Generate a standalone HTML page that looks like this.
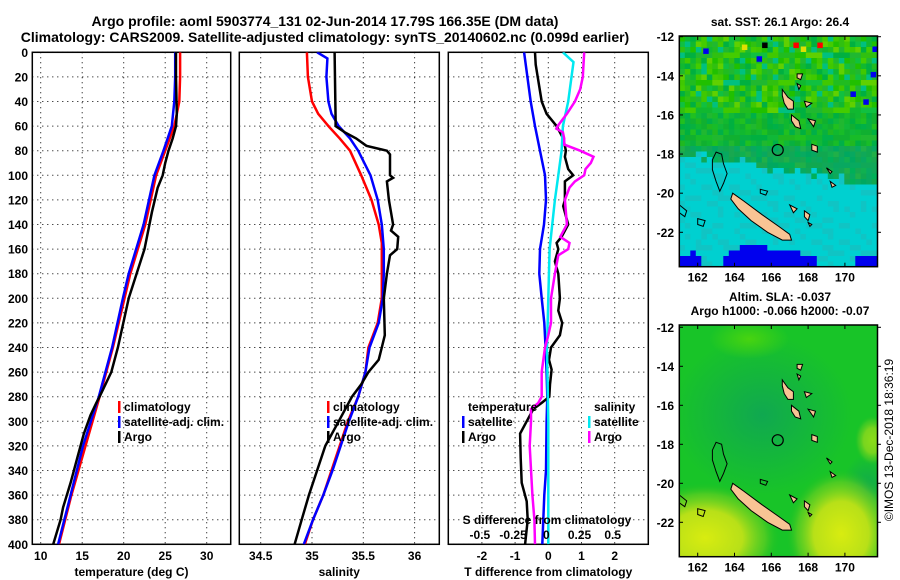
<!DOCTYPE html>
<html><head><meta charset="utf-8"><style>
body{margin:0;background:#fff}
svg{display:block;font-family:"Liberation Sans",sans-serif;font-weight:bold}
</style></head><body>
<svg id="c" width="900" height="580" viewBox="0 0 900 580" xmlns="http://www.w3.org/2000/svg">
<defs>
<clipPath id="cp1"><rect x="32.3" y="52.3" width="198.4" height="492"/></clipPath>
<clipPath id="cp2"><rect x="239.3" y="52.3" width="200" height="492"/></clipPath>
<clipPath id="cp3"><rect x="448.3" y="52.3" width="200" height="492"/></clipPath>
<clipPath id="cpm1"><rect x="679.3" y="36" width="198" height="230.7"/></clipPath>
<clipPath id="cpm2"><rect x="679.3" y="325" width="198.4" height="231.7"/></clipPath>
<radialGradient id="gy1" cx="0.5" cy="0.5" r="0.5"><stop offset="0" stop-color="#d8ec10"/><stop offset="0.5" stop-color="#b8e018"/><stop offset="0.8" stop-color="#70d020" stop-opacity="0.6"/><stop offset="1" stop-color="#20c020" stop-opacity="0"/></radialGradient>
<radialGradient id="gt" cx="0.5" cy="0.5" r="0.5"><stop offset="0" stop-color="#10a850"/><stop offset="1" stop-color="#10a850" stop-opacity="0"/></radialGradient>
<radialGradient id="gl" cx="0.5" cy="0.5" r="0.5"><stop offset="0" stop-color="#48d410"/><stop offset="1" stop-color="#48d410" stop-opacity="0"/></radialGradient>
</defs>
<text x="325" y="26" text-anchor="middle" font-size="14">Argo profile: aoml 5903774_131 02-Jun-2014 17.79S 166.35E (DM data)</text>
<text x="325" y="42" text-anchor="middle" font-size="14">Climatology: CARS2009. Satellite-adjusted climatology: synTS_20140602.nc (0.099d earlier)</text>
<g id="panels"></g>
<g id="maps"></g>
<text x="780" y="26" text-anchor="middle" font-size="12">sat. SST: 26.1 Argo: 26.4</text>
<text x="780" y="301" text-anchor="middle" font-size="12">Altim. SLA: -0.037</text>
<text x="780" y="315" text-anchor="middle" font-size="12">Argo h1000: -0.066 h2000: -0.07</text>
<text transform="translate(893,440) rotate(-90)" text-anchor="middle" font-size="12" font-weight="normal">©IMOS 13-Dec-2018 18:36:19</text>
</svg>
<script>
// ---- profile data ----
const tDepth = [0,20,40,60,80,100,140,180,200,240,280,320,360,400];
const tClim  = [26.8,26.8,26.7,26.1,25.0,23.9,22.6,20.8,20.1,18.7,17.1,15.4,13.7,12.2];
const tSat   = [26.2,26.2,26.1,25.8,24.8,23.7,22.4,20.6,19.9,18.6,17.0,15.1,13.6,12.1];
const tArgoDepth = [0,20,50,60,70,80,90,100,110,130,160,200,240,260,280,285,295,310,330,350,370,380,400];
const tArgo  = [26.3,26.3,26.4,26.3,25.9,25.4,25.0,24.7,24.1,23.4,22.5,20.6,19.3,18.5,17.1,16.7,16.0,15.2,14.4,13.6,12.7,12.4,11.5];
const sDepth = [0,20,40,50,60,70,80,100,120,140,155,180,200,220,240,260,280,300,320,340,360,380,400];
const sClim  = [34.95,34.96,35.0,35.06,35.16,35.27,35.37,35.48,35.58,35.65,35.68,35.68,35.68,35.64,35.55,35.52,35.45,35.35,35.27,35.19,35.11,35.01,34.93];
const sSatDepth = [0,5,20,40,50,60,70,80,100,120,140,160,180,200,220,240,260,280,300,320,340,360,380,400];
const sSat   = [35.05,35.15,35.14,35.16,35.19,35.26,35.37,35.45,35.57,35.64,35.68,35.70,35.70,35.69,35.65,35.56,35.52,35.45,35.36,35.28,35.20,35.11,35.01,34.92];
const sArgoDepth = [0,55,60,65,70,76,80,83,100,102,105,120,140,145,150,160,165,180,200,230,240,250,260,270,280,300,320,340,360,380,400];
const sArgo  = [35.22,35.23,35.23,35.32,35.43,35.53,35.73,35.76,35.76,35.79,35.73,35.75,35.79,35.77,35.84,35.83,35.76,35.73,35.70,35.71,35.68,35.65,35.55,35.48,35.39,35.26,35.13,35.05,34.97,34.90,34.83];
const dTSatDepth = [0,20,40,60,80,100,120,140,160,180,200,220,240,260,280,300,340,360,380,400];
const dTSat  = [-0.73,-0.63,-0.53,-0.40,-0.25,-0.10,-0.07,-0.13,-0.25,-0.27,-0.20,-0.12,-0.08,-0.05,-0.03,-0.05,-0.07,-0.12,-0.15,-0.18];
const dTArgoDepth = [0,10,20,40,50,60,70,80,85,95,100,105,120,125,140,150,155,160,170,180,200,210,220,230,240,250,258,270,280,285,290,300,310,330,350,365,380,400];
const dTArgo = [-0.40,-0.38,-0.32,-0.20,-0.05,0.25,0.45,0.53,0.50,0.60,0.75,0.50,0.50,0.45,0.60,0.40,0.25,0.30,0.20,0.30,0.35,0.30,0.42,0.35,0.08,0.02,0.10,0.05,0.03,-0.20,-0.45,-0.65,-0.85,-0.83,-0.80,-0.65,-0.62,-0.70];
const dSSatDepth = [0,8,40,60,80,100,120,160,200,240,300,400];
const dSSat  = [0.11,0.19,0.15,0.11,0.10,0.075,0.05,0.01,0.0,-0.01,0.0,0.0];
const dSArgoDepth = [0,20,30,40,50,60,62,65,70,75,80,85,90,95,100,105,110,120,140,150,155,160,165,180,200,220,230,240,260,280,285,290,300,320,360,380,400];
const dSArgo = [0.27,0.26,0.24,0.20,0.14,0.07,0.06,0.11,0.12,0.12,0.24,0.34,0.32,0.28,0.27,0.20,0.16,0.125,0.14,0.09,0.16,0.15,0.075,0.05,0.02,0.02,0.0,-0.025,-0.05,-0.05,-0.075,-0.13,-0.13,-0.14,-0.12,-0.105,-0.10];
const depthTicks = [0,20,40,60,80,100,120,140,160,180,200,220,240,260,280,300,320,340,360,380,400];
const tTicks = [10,15,20,25,30];
const sTicks = [34.5,35,35.5,36];
const dTTicks = [-2,-1,0,1,2];
const dSTicks = [-0.5,-0.25,0,0.25,0.5];
const dSTickLabels = ['-0.5','-0.25','0','0.25','0.5'];

// ---- axis functions ----
const yD = d => 52.3 + d*1.23;
const xT = t => 40.7 + (t-10)*8.3;
const xS = s => 260.7 + (s-34.5)*102.6;
const xDT = v => 548.3 + v*33.2;
const xDS = s => 548.3 + s*132.8;

const NS='http://www.w3.org/2000/svg';
function mk(tag, attrs, parent){const e=document.createElementNS(NS,tag);for(const k in attrs)e.setAttribute(k,attrs[k]);parent.appendChild(e);return e;}
const panels=document.getElementById('panels');

function panel(x0,x1,xf,ticks,labels,title,clip,name){
  const g=mk('g',{},panels);
  
  
  depthTicks.forEach(d=>{const l=mk('line',{x1:x0,x2:x1,y1:yD(d),y2:yD(d),stroke:'#000','stroke-width':1,'stroke-dasharray':'1,4'},g);
    
    });
  ticks.forEach((t,i)=>{const l=mk('line',{x1:xf(t),x2:xf(t),y1:52.3,y2:544.3,stroke:'#000','stroke-width':1,'stroke-dasharray':'1,4'},g);
    
    
    const tx=mk('text',{x:xf(t),y:560,'text-anchor':'middle','font-size':12},g);tx.textContent=labels[i];
    
    });
  const r=mk('rect',{x:x0,y:52.3,width:x1-x0,height:492,fill:'none',stroke:'#000','stroke-width':1.5},g);
  
  
  const tt=mk('text',{x:(x0+x1)/2,y:576,'text-anchor':'middle','font-size':12},g);tt.textContent=title;
  
  
  return mk('g',{'clip-path':'url(#'+clip+')'},g);
}
function line(g,depths,vals,xf,color,name,w){
  const p=depths.map((d,i)=>xf(vals[i]).toFixed(1)+','+yD(d).toFixed(1)).join(' ');
  const e=mk('polyline',{points:p,fill:'none',stroke:color,'stroke-width':w||2.5,'stroke-linejoin':'miter'},g);
  
  
}
function legendEntry(x,y,color,label,parent){
  if(color){const m=mk('rect',{x:x-6,y:y-10,width:2.5,height:12,fill:color},parent);
    
    }
  const t=mk('text',{x:x,y:y,'font-size':12},parent);t.textContent=label;
  
  
}

depthTicks.forEach(d=>{const t=mk('text',{x:28,y:yD(d)+4.5,'text-anchor':'end','font-size':12},panels);t.textContent=d;
  
  });

const g1=panel(32.3,230.7,xT,tTicks,tTicks.map(String),'temperature (deg C)','cp1','temperature-panel');
line(g1,tDepth,tClim,xT,'#ff0000','temp-climatology-line');
line(g1,tDepth,tSat,xT,'#0000ff','temp-satellite-line');
line(g1,tArgoDepth,tArgo,xT,'#000','temp-argo-line');
const g2=panel(239.3,439.3,xS,sTicks,sTicks.map(String),'salinity','cp2','salinity-panel');
line(g2,sDepth,sClim,xS,'#ff0000','sal-climatology-line');
line(g2,sSatDepth,sSat,xS,'#0000ff','sal-satellite-line');
line(g2,sArgoDepth,sArgo,xS,'#000','sal-argo-line');
const g3=panel(448.3,648.3,xDT,dTTicks,dTTicks.map(String),'T difference from climatology','cp3','difference-panel');
line(g3,dTSatDepth,dTSat,xDT,'#0000ff','dt-satellite-line');
line(g3,dTArgoDepth,dTArgo,xDT,'#000','dt-argo-line');
line(g3,dSSatDepth,dSSat,xDS,'#00e8f0','ds-satellite-line');
line(g3,dSArgoDepth,dSArgo,xDS,'#ff00ff','ds-argo-line');

legendEntry(124,411,'#ff0000','climatology',panels);
legendEntry(124,426,'#0000ff','satellite-adj. clim.',panels);
legendEntry(124,441,'#000','Argo',panels);
legendEntry(333,411,'#ff0000','climatology',panels);
legendEntry(333,426,'#0000ff','satellite-adj. clim.',panels);
legendEntry(333,441,'#000','Argo',panels);
legendEntry(468,411,null,'temperature',panels);
legendEntry(468,426,'#0000ff','satellite',panels);
legendEntry(468,441,'#000','Argo',panels);
legendEntry(594,411,null,'salinity',panels);
legendEntry(594,426,'#00e8f0','satellite',panels);
legendEntry(594,441,'#ff00ff','Argo',panels);
{const t=mk('text',{x:547,y:524,'text-anchor':'middle','font-size':12},panels);t.textContent='S difference from climatology';
 
 }
dSTicks.forEach((s,i)=>{const t=mk('text',{x:xDS(s)-2,y:539,'text-anchor':'middle','font-size':12},panels);t.textContent=dSTickLabels[i];
  
  });

// ---- maps ----
const maps=document.getElementById('maps');
const lonTicks=[162,164,166,168,170];
const latTicks=[-12,-14,-16,-18,-20,-22];
const mx = lon => 697.7 + (lon-162)*18.4;
const my1 = lat => 36.7 + (-12-lat)*19.56;
const my2 = lat => 327.3 + (-12-lat)*19.5;

const g1m=mk('g',{'clip-path':'url(#cpm1)'},maps);


const cs=5.5;
for(let r=0;r<43;r++)for(let c=0;c<37;c++){
  const x=679.3+c*cs,y=36+r*cs;
  const lon=161+(x+cs/2-679.3)/18.4, lat=-12-(y+cs/2-36.7)/19.56;
  const h=((r*7+c*13+((r*c)%5))%11);
  let col;
  const bnd=-18.0-(lon-161)*0.14;
  const blue=(lat<-22.6&&lon>164.2&&lon<165.8)||(lat<-22.95&&lon>163.8&&lon<167.6)||(lat<-23.3&&lon>163.3&&lon<168.6)||(lat<-23.3&&lon<162.3)||(lat<-23.0&&lon>161.5&&lon<161.9)||(lat<-23.3&&lon>170.6);
  if(blue)col='#0000ee';
  else if(lat<bnd+(h%3-1)*0.2)col=(h<3?'#10c4c4':'#00d0d0');
  else if(lat>-15.8){col=['#20c000','#40c800','#10b830','#30c010','#00b040','#60d000','#20bc20','#10c040','#44cc00','#20b830','#00c080'][h];}
  else if(lat>-17.5){col=['#10b830','#20b820','#00b040','#10b030','#18bc28','#00b048','#20c020','#10b838','#08b040','#20b830','#10b030'][h];}
  else col=['#10a858','#08a860','#10a850','#00b058','#18a850','#10b050','#08aa60','#10a858','#20b048','#00a860','#10a850'][h];
  mk('rect',{x:x,y:y,width:cs+0.3,height:cs+0.3,fill:col},g1m);
}
[[167.2,-12.3,'#ff0000'],[165.5,-12.3,'#000'],[168.5,-12.3,'#ff0000'],[162.3,-12.6,'#0000ee'],[171.5,-12.5,'#0000ee'],[165.2,-13.0,'#0000ee'],[171.0,-15.2,'#0000ee'],[170.3,-14.8,'#0000ee'],[167.6,-12.5,'#e0e000'],[164.4,-12.4,'#e0e000'],[171.4,-13.8,'#0000ee']].forEach(p=>{
  mk('rect',{x:mx(p[0]),y:my1(p[1]),width:cs,height:cs,fill:p[2]},g1m);});

const g2m=mk('g',{'clip-path':'url(#cpm2)'},maps);


mk('rect',{x:679.3,y:325,width:198.4,height:231.7,fill:'#18c428'},g2m);
mk('ellipse',{cx:mx(165.5),cy:my2(-16.5),rx:90,ry:80,fill:'url(#gt)'},g2m);
mk('ellipse',{cx:mx(171.2),cy:my2(-20.3),rx:25,ry:35,fill:'url(#gt)'},g2m);
mk('ellipse',{cx:mx(164.8),cy:my2(-12.6),rx:40,ry:20,fill:'url(#gl)'},g2m);
mk('ellipse',{cx:mx(162.4),cy:my2(-22.8),rx:75,ry:55,fill:'url(#gy1)'},g2m);
mk('ellipse',{cx:mx(169.8),cy:my2(-22.6),rx:55,ry:65,fill:'url(#gy1)'},g2m);
mk('ellipse',{cx:mx(171.5),cy:my2(-17.8),rx:18,ry:25,fill:'url(#gy1)',opacity:0.6},g2m);

const islands=[
 [[163.9,-20.0],[164.5,-20.4],[165.5,-21.1],[166.4,-21.7],[167.0,-22.1],[167.1,-22.4],[166.6,-22.4],[165.8,-22.0],[164.9,-21.4],[164.2,-20.8],[163.8,-20.3]],
 [[166.6,-14.7],[166.9,-15.1],[167.2,-15.3],[167.2,-15.7],[166.9,-15.7],[166.7,-15.4],[166.6,-15.0]],
 [[167.1,-16.0],[167.5,-16.3],[167.6,-16.7],[167.3,-16.6],[167.1,-16.3]],
 [[168.2,-17.5],[168.5,-17.6],[168.5,-17.9],[168.2,-17.8]],
 [[167.8,-15.3],[168.2,-15.4],[167.9,-15.6]],
 [[167.4,-13.9],[167.7,-13.9],[167.6,-14.2],[167.4,-14.1]],
 [[167.4,-14.4],[167.6,-14.5],[167.5,-14.7]],
 [[168.0,-16.2],[168.4,-16.3],[168.3,-16.6]],
 [[169.0,-18.7],[169.3,-18.9],[169.2,-19.0]],
 [[169.2,-19.4],[169.5,-19.6],[169.3,-19.7]],
 [[167.0,-20.6],[167.4,-20.8],[167.2,-21.0]],
 [[167.8,-20.9],[168.1,-21.1],[168.0,-21.4],[167.8,-21.2]],
 [[168.0,-21.5],[168.2,-21.6],[168.1,-21.7]]
];
const reefs=[
 [[163.0,-17.9],[163.3,-18.0],[163.4,-18.5],[163.6,-19.0],[163.4,-19.5],[163.2,-19.9],[163.0,-19.4],[162.8,-18.8],[162.8,-18.3]],
 [[165.4,-19.8],[165.8,-19.9],[165.7,-20.1],[165.4,-20.0]],
 [[162.0,-21.3],[162.4,-21.4],[162.3,-21.7],[162.0,-21.6]],
 [[161.0,-20.6],[161.4,-20.9],[161.3,-21.2],[161.0,-21.0]]
];
function drawMap(g,my){
  islands.forEach(poly=>{const e=mk('polygon',{points:poly.map(p=>mx(p[0]).toFixed(1)+','+my(p[1]).toFixed(1)).join(' '),fill:'#f8c494',stroke:'#000','stroke-width':1},g);
    
    });
  reefs.forEach(poly=>{const e=mk('polygon',{points:poly.map(p=>mx(p[0]).toFixed(1)+','+my(p[1]).toFixed(1)).join(' '),fill:'none',stroke:'#000','stroke-width':1},g);
    
    });
  const c=mk('circle',{cx:mx(166.35),cy:my(-17.79),r:5.5,fill:'none',stroke:'#000','stroke-width':1.2},g);
  
  
}
drawMap(g1m,my1);
drawMap(g2m,my2);

function frame(y0,h,my){
  const r=mk('rect',{x:679.3,y:y0,width:198.2,height:h,fill:'none',stroke:'#000','stroke-width':1.5},maps);
  
  
  lonTicks.forEach(l=>{
    mk('line',{x1:mx(l),x2:mx(l),y1:y0,y2:y0+4,stroke:'#000'},maps);
    mk('line',{x1:mx(l),x2:mx(l),y1:y0+h,y2:y0+h-4,stroke:'#000'},maps);
    const t=mk('text',{x:mx(l),y:y0+h+15,'text-anchor':'middle','font-size':12},maps);t.textContent=l;
    
    });
  latTicks.forEach(l=>{
    mk('line',{x1:877.5,x2:881,y1:my(l),y2:my(l),stroke:'#000'},maps);
    mk('line',{x1:679.3,x2:683,y1:my(l),y2:my(l),stroke:'#000'},maps);
    const t=mk('text',{x:674,y:my(l)+4.5,'text-anchor':'end','font-size':12},maps);t.textContent=l;
    
    });
}
frame(36,230.7,my1);
frame(325,231.7,my2);
</script>
</body></html>
